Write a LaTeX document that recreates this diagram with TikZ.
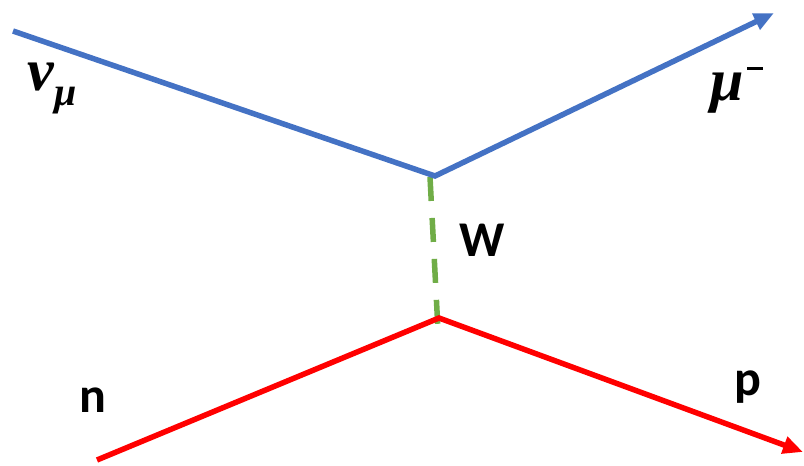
\documentclass[tikz,border=0pt]{standalone}
\usepackage{fontspec}
\setmainfont{Carlito}
\newfontfamily\grk{Liberation Serif}
\usetikzlibrary{arrows.meta}
\definecolor{leptonblue}{RGB}{68,114,196}
\definecolor{hadronred}{RGB}{255,0,0}
\definecolor{bosongreen}{RGB}{112,173,71}
\newcommand{\smallgrk}{\fontsize{40}{40}\selectfont}
\begin{document}
\begin{tikzpicture}[x=1pt,y=-1pt,
  lepton/.style={draw=leptonblue,line width=5.5pt,line join=miter},
  hadron/.style={draw=hadronred,line width=5.5pt,line join=miter},
  boson/.style={draw=bosongreen,line width=5.5pt,dash pattern=on 24pt off 17pt},
  lbl/.style={font=\fontsize{50}{50}\selectfont\bfseries,inner sep=0pt},
  glbl/.style={font=\fontsize{60}{60}\selectfont\grk\bfseries\itshape,inner sep=0pt},
  tip/.style={-{Triangle[length=20pt,width=17pt]}}]
\useasboundingbox (0,0) rectangle (804,466);
% vertices and free ends
\coordinate (nuin) at (13,31);
\coordinate (vtop) at (435,176);
\coordinate (muout) at (774,13);
\coordinate (nin) at (97,460);
\coordinate (vbot) at (439,318);
\coordinate (pout) at (803,452);
\coordinate (wtop) at (430,177);
\coordinate (wbot) at (438,330);
% propagator
\draw[boson] (wtop) -- (wbot);
% lepton line
\draw[lepton,tip] (nuin) -- (vtop) -- (muout);
% hadron line
\draw[hadron,tip] (nin) -- (vbot) -- (pout);
% labels
\node[glbl] (lnu) at (52,88) {ν\raisebox{-0.25em}{\smallgrk μ}};
\node[glbl] (lmu) at (737,90) {μ\kern0.06em\raisebox{0.5em}{\rule{16pt}{3.5pt}}};
\node[lbl] (lw) at (482,240) {W};
\node[lbl] (ln) at (93,400) {n};
\node[lbl] (lp) at (748,387) {p};
\end{tikzpicture}
\end{document}
